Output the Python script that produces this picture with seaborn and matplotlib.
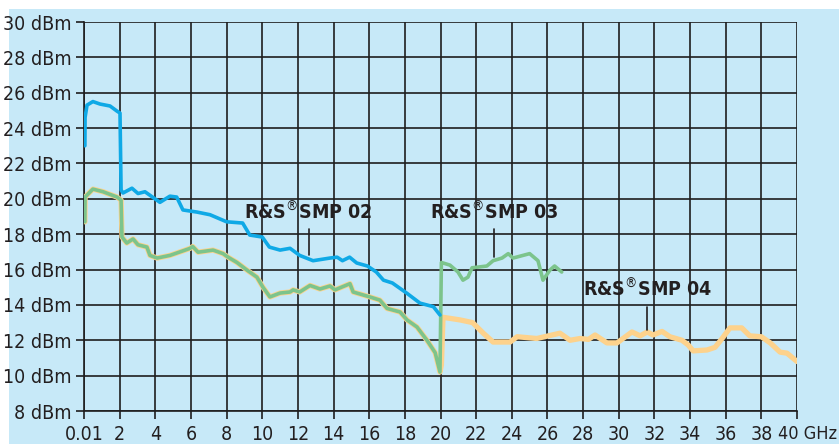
import numpy as np
import pandas as pd
import seaborn as sns
import matplotlib.pyplot as plt
from matplotlib.patches import Rectangle

# frequency (GHz) / output power (dBm)
smp02_f = [0.05, 0.06, 0.17, 0.5, 0.9, 1.46, 1.85, 2.02, 2.08, 2.19, 2.69, 3.03, 3.42, 3.7,
           4.26, 4.82, 5.2, 5.55, 6.34, 7.07, 8.0, 8.9, 9.3, 10.0, 10.4, 11.0, 11.56, 12.1,
           12.85, 13.8, 14.2, 14.5, 14.9, 15.3, 15.9, 16.4, 16.8, 17.3, 18.1, 18.85, 19.6, 19.97]
smp02_p = [23.0, 24.6, 25.3, 25.5, 25.36, 25.25, 24.96, 24.85, 20.5, 20.33, 20.6, 20.3, 20.4, 20.2,
           19.8, 20.15, 20.1, 19.37, 19.25, 19.1, 18.7, 18.63, 17.95, 17.84, 17.27, 17.1, 17.2, 16.8,
           16.5, 16.65, 16.7, 16.5, 16.7, 16.37, 16.2, 15.86, 15.4, 15.24, 14.67, 14.1, 13.9, 13.43]

# 0.01 GHz to 20 GHz is common to SMP 03 and SMP 04
low_f = [0.05, 0.06, 0.5, 1.07, 1.85, 2.08, 2.13, 2.4, 2.75, 3.03, 3.53, 3.7, 4.1, 4.82, 5.39,
         5.95, 6.1, 6.4, 7.24, 7.8, 8.08, 8.58, 9.14, 9.7, 10.04, 10.43, 11.0, 11.56, 11.73, 12.1,
         12.68, 13.24, 13.8, 14.08, 14.92, 15.1, 16.04, 16.6, 17.0, 17.73, 18.12, 18.68, 19.24,
         19.7, 19.97]
low_p = [18.7, 20.1, 20.55, 20.4, 20.1, 19.93, 17.84, 17.5, 17.73, 17.4, 17.27, 16.8, 16.65, 16.8,
         17.0, 17.2, 17.3, 16.98, 17.1, 16.9, 16.7, 16.4, 15.97, 15.57, 15.0, 14.45, 14.67, 14.73,
         14.85, 14.73, 15.1, 14.9, 15.07, 14.85, 15.2, 14.73, 14.45, 14.27, 13.8, 13.6, 13.15,
         12.75, 12.0, 11.3, 10.2]

smp03_f = [20.05, 20.53, 20.98, 21.26, 21.54, 21.77, 22.2, 22.6, 22.95, 23.45, 23.8, 24.07,
           25.0, 25.47, 25.75, 26.14, 26.4, 26.8]
smp03_p = [16.4, 16.25, 15.86, 15.4, 15.57, 16.1, 16.15, 16.2, 16.5, 16.65, 16.9, 16.65,
           16.9, 16.5, 15.4, 15.97, 16.2, 15.86]

smp04_f = [20.05, 20.14, 21.1, 21.8, 22.4, 22.95, 23.9, 24.3, 25.4, 26.7, 27.27, 27.83, 28.3,
           28.67, 29.34, 29.9, 30.24, 30.74, 31.2, 31.6, 31.92, 32.43, 32.87, 33.55, 33.9,
           34.17, 34.95, 35.4, 35.8, 36.24, 36.9, 37.35, 38.0, 38.5, 39.05, 39.44, 40.0]
smp04_p = [10.6, 13.3, 13.15, 13.0, 12.4, 11.9, 11.9, 12.2, 12.1, 12.4, 12.0, 12.1, 12.05,
           12.3, 11.85, 11.85, 12.1, 12.47, 12.25, 12.47, 12.3, 12.5, 12.2, 12.0, 11.73,
           11.4, 11.45, 11.6, 12.1, 12.7, 12.7, 12.25, 12.2, 11.85, 11.33, 11.27, 10.8]

x_ticks = list(range(0, 41, 2))
x_labels = ['0.01'] + [str(t) for t in x_ticks[1:-1]] + ['']
y_ticks = list(range(8, 31, 2))
y_labels = [f'{t} dBm' for t in y_ticks]

bg = '#c7e9f8'
blue = '#0fa9e6'
green = '#7cc48c'
orange = '#fdd28c'
ink = '#231f20'

sns.set_theme(style='white')
plt.rcParams['font.family'] = ['DejaVu Sans']
plt.rcParams['font.stretch'] = 'condensed'
plt.rcParams['mathtext.fontset'] = 'dejavusans'

fig = plt.figure(figsize=(8.39, 4.44), dpi=100, facecolor='white')
fig.patches.append(Rectangle((9 / 839, 0), 1, 1 - 9 / 444, transform=fig.transFigure,
                             facecolor=bg, edgecolor='none', zorder=-10))
ax = fig.add_axes([84 / 839, 1 - 411 / 444, 713 / 839, 389 / 444])
ax.set_facecolor(bg)

df04 = pd.DataFrame({'f': low_f + smp04_f, 'p': low_p + smp04_p})
df03 = pd.DataFrame({'f': low_f + smp03_f, 'p': low_p + smp03_p})
df02 = pd.DataFrame({'f': smp02_f, 'p': smp02_p})

sns.lineplot(data=df04, x='f', y='p', sort=False, estimator=None, color=orange, lw=3.8, ax=ax, zorder=3)
sns.lineplot(data=df03, x='f', y='p', sort=False, estimator=None, color=green, lw=2.6, ax=ax, zorder=4)
sns.lineplot(data=df02, x='f', y='p', sort=False, estimator=None, color=blue, lw=2.6, ax=ax, zorder=5)
for l in ax.lines:
    l.set_solid_joinstyle('round')

ax.set_xlim(0, 40)
ax.set_ylim(8, 30)
ax.set_xticks(x_ticks)
ax.set_xticklabels(x_labels)
ax.set_yticks(y_ticks)
ax.set_yticklabels(y_labels)
ax.set_xlabel('')
ax.set_ylabel('')
ax.grid(True, color='#1e1e1e', lw=1.2)
for s in ['top', 'right']:
    ax.spines[s].set_visible(False)
for s in ['left', 'bottom']:
    ax.spines[s].set_color('#1e1e1e')
    ax.spines[s].set_linewidth(1.2)
ax.tick_params(axis='both', direction='out', length=6, width=1.2, color='#1e1e1e',
               labelsize=14, labelcolor=ink, bottom=True, left=True)
ax.tick_params(axis='y', pad=3)
ax.tick_params(axis='x', pad=4)
ax.annotate('40 GHz', xy=(1, 0), xycoords='axes fraction', xytext=(-19, -14),
            textcoords='offset pixels', ha='left', va='top', fontsize=13, color=ink)

# series labels with leader lines
labels = [('R&S$^{®}$SMP 02', 12.6, 18.3, 12.6, 16.7), ('R&S$^{®}$SMP 03', 23.0, 18.3, 23.0, 16.6),
          ('R&S$^{®}$SMP 04', 31.6, 13.9, 31.6, 12.5)]
for txt, tx, ty, lx, ly in labels:
    ax.text(tx, ty + 0.35, txt, ha='center', va='bottom', fontsize=14, fontweight='bold', color=ink, zorder=6)
    ax.plot([lx, lx], [ty, ly + 0.1], color=ink, lw=1.2, zorder=6)

fig.savefig('out.png', dpi=100, facecolor=fig.get_facecolor())
